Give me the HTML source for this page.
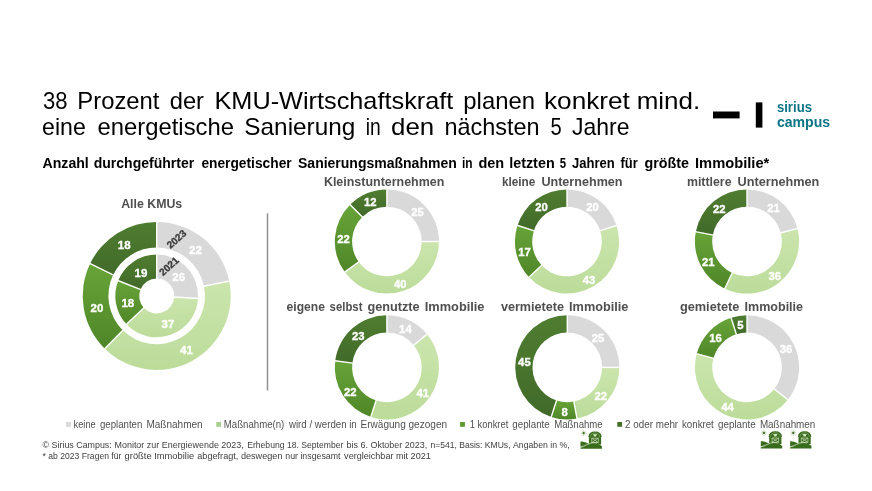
<!DOCTYPE html>
<html><head><meta charset="utf-8"><title>KMU Sanierung</title>
<style>
html,body{margin:0;padding:0;background:#fff;}
svg{display:block;will-change:transform;font-family:"Liberation Sans",sans-serif;}
.ttl{font-size:24px;fill:#000;}
.sub{font-size:14px;font-weight:bold;fill:#000;}
.ct{font-size:12.5px;font-weight:bold;fill:#4F4F4F;}
.lg{font-size:10px;fill:#505050;}
.ft{font-size:9.3px;fill:#404040;}
.dl{font-weight:bold;fill:#fff;stroke:#fff;stroke-width:0.35px;}
.logo{font-size:14.6px;font-weight:bold;fill:#0B7585;}
.yr{font-size:10px;font-weight:bold;fill:#3A3A3A;stroke:#3A3A3A;stroke-width:0.3px;}
</style></head><body>
<svg width="872" height="491" viewBox="0 0 872 491">
<rect width="872" height="491" fill="#fff"/>

<defs>
<linearGradient id="gL" x1="0" y1="0" x2="0" y2="1"><stop offset="0" stop-color="#CBE5AD"/><stop offset="1" stop-color="#BCDC9A"/></linearGradient>
<linearGradient id="gM" x1="0" y1="0" x2="0" y2="1"><stop offset="0" stop-color="#67A438"/><stop offset="1" stop-color="#4F8628"/></linearGradient>
<linearGradient id="gD" x1="0" y1="0" x2="0" y2="1"><stop offset="0" stop-color="#4F7D30"/><stop offset="1" stop-color="#416A29"/></linearGradient>
</defs>
<text x="776.9" y="112.1" class="logo" textLength="35.1" lengthAdjust="spacingAndGlyphs">sirius</text>
<text x="776.9" y="127.2" class="logo" textLength="53.2" lengthAdjust="spacingAndGlyphs">campus</text>
<text x="43.00" y="108.5" class="ttl" textLength="24.52" lengthAdjust="spacingAndGlyphs">38</text>
<text x="77.31" y="108.5" class="ttl" textLength="82.16" lengthAdjust="spacingAndGlyphs">Prozent</text>
<text x="169.71" y="108.5" class="ttl" textLength="34.28" lengthAdjust="spacingAndGlyphs">der</text>
<text x="214.45" y="108.5" class="ttl" textLength="238.90" lengthAdjust="spacingAndGlyphs">KMU-Wirtschaftskraft</text>
<text x="463.30" y="108.5" class="ttl" textLength="71.74" lengthAdjust="spacingAndGlyphs">planen</text>
<text x="544.01" y="108.5" class="ttl" textLength="85.83" lengthAdjust="spacingAndGlyphs">konkret</text>
<text x="636.72" y="108.5" class="ttl" textLength="63.49" lengthAdjust="spacingAndGlyphs">mind.</text>
<text x="42.04" y="134.8" class="ttl" textLength="43.70" lengthAdjust="spacingAndGlyphs">eine</text>
<text x="97.51" y="134.8" class="ttl" textLength="136.54" lengthAdjust="spacingAndGlyphs">energetische</text>
<text x="244.39" y="134.8" class="ttl" textLength="110.88" lengthAdjust="spacingAndGlyphs">Sanierung</text>
<text x="365.70" y="134.8" class="ttl" textLength="14.98" lengthAdjust="spacingAndGlyphs">in</text>
<text x="391.12" y="134.8" class="ttl" textLength="43.13" lengthAdjust="spacingAndGlyphs">den</text>
<text x="444.42" y="134.8" class="ttl" textLength="95.09" lengthAdjust="spacingAndGlyphs">nächsten</text>
<text x="550.60" y="134.8" class="ttl" textLength="11.19" lengthAdjust="spacingAndGlyphs">5</text>
<text x="572.00" y="134.8" class="ttl" textLength="57.53" lengthAdjust="spacingAndGlyphs">Jahre</text>
<text x="42.50" y="168.4" class="sub" textLength="46.30" lengthAdjust="spacingAndGlyphs">Anzahl</text>
<text x="93.70" y="168.4" class="sub" textLength="100.55" lengthAdjust="spacingAndGlyphs">durchgeführter</text>
<text x="201.40" y="168.4" class="sub" textLength="90.26" lengthAdjust="spacingAndGlyphs">energetischer</text>
<text x="298.00" y="168.4" class="sub" textLength="158.75" lengthAdjust="spacingAndGlyphs">Sanierungsmaßnahmen</text>
<text x="462.00" y="168.4" class="sub" textLength="10.57" lengthAdjust="spacingAndGlyphs">in</text>
<text x="478.40" y="168.4" class="sub" textLength="25.77" lengthAdjust="spacingAndGlyphs">den</text>
<text x="509.20" y="168.4" class="sub" textLength="45.47" lengthAdjust="spacingAndGlyphs">letzten</text>
<text x="559.70" y="168.4" class="sub" textLength="6.33" lengthAdjust="spacingAndGlyphs">5</text>
<text x="572.00" y="168.4" class="sub" textLength="42.71" lengthAdjust="spacingAndGlyphs">Jahren</text>
<text x="620.50" y="168.4" class="sub" textLength="17.19" lengthAdjust="spacingAndGlyphs">für</text>
<text x="644.50" y="168.4" class="sub" textLength="44.48" lengthAdjust="spacingAndGlyphs">größte</text>
<text x="695.00" y="168.4" class="sub" textLength="74.32" lengthAdjust="spacingAndGlyphs">Immobilie*</text>
<text x="73.60" y="428.3" class="lg" textLength="22.09" lengthAdjust="spacingAndGlyphs">keine</text>
<text x="99.90" y="428.3" class="lg" textLength="42.44" lengthAdjust="spacingAndGlyphs">geplanten</text>
<text x="146.50" y="428.3" class="lg" textLength="56.06" lengthAdjust="spacingAndGlyphs">Maßnahmen</text>
<text x="223.80" y="428.3" class="lg" textLength="60.52" lengthAdjust="spacingAndGlyphs">Maßnahme(n)</text>
<text x="288.97" y="428.3" class="lg" textLength="67.78" lengthAdjust="spacingAndGlyphs">wird / werden in</text>
<text x="360.50" y="428.3" class="lg" textLength="86.56" lengthAdjust="spacingAndGlyphs">Erwägung gezogen</text>
<text x="469.70" y="428.3" class="lg" textLength="38.59" lengthAdjust="spacingAndGlyphs">1 konkret</text>
<text x="512.30" y="428.3" class="lg" textLength="37.47" lengthAdjust="spacingAndGlyphs">geplante</text>
<text x="554.20" y="428.3" class="lg" textLength="48.48" lengthAdjust="spacingAndGlyphs">Maßnahme</text>
<text x="625.10" y="428.3" class="lg" textLength="53.04" lengthAdjust="spacingAndGlyphs">2 oder mehr</text>
<text x="682.00" y="428.3" class="lg" textLength="31.79" lengthAdjust="spacingAndGlyphs">konkret</text>
<text x="718.00" y="428.3" class="lg" textLength="37.77" lengthAdjust="spacingAndGlyphs">geplante</text>
<text x="759.90" y="428.3" class="lg" textLength="55.45" lengthAdjust="spacingAndGlyphs">Maßnahmen</text>
<text x="42.60" y="448.3" class="ft" textLength="69.16" lengthAdjust="spacingAndGlyphs">© Sirius Campus:</text>
<text x="114.50" y="448.3" class="ft" textLength="129.26" lengthAdjust="spacingAndGlyphs">Monitor zur Energiewende 2023,</text>
<text x="247.20" y="448.3" class="ft" textLength="96.19" lengthAdjust="spacingAndGlyphs">Erhebung 18. September</text>
<text x="346.60" y="448.3" class="ft" textLength="80.56" lengthAdjust="spacingAndGlyphs">bis 6. Oktober 2023,</text>
<text x="430.40" y="448.3" class="ft" textLength="80.14" lengthAdjust="spacingAndGlyphs">n=541, Basis: KMUs,</text>
<text x="513.00" y="448.3" class="ft" textLength="56.55" lengthAdjust="spacingAndGlyphs">Angaben in %,</text>
<text x="42.60" y="459.3" class="ft" textLength="78.79" lengthAdjust="spacingAndGlyphs">* ab 2023 Fragen für</text>
<text x="124.60" y="459.3" class="ft" textLength="69.57" lengthAdjust="spacingAndGlyphs">größte Immobilie</text>
<text x="197.30" y="459.3" class="ft" textLength="85.17" lengthAdjust="spacingAndGlyphs">abgefragt, deswegen</text>
<text x="285.30" y="459.3" class="ft" textLength="55.11" lengthAdjust="spacingAndGlyphs">nur insgesamt</text>
<text x="344.10" y="459.3" class="ft" textLength="86.67" lengthAdjust="spacingAndGlyphs">vergleichbar mit 2021</text>
<text x="121.20" y="207.8" class="ct" textLength="61.05" lengthAdjust="spacingAndGlyphs">Alle KMUs</text>
<text x="323.90" y="186.3" class="ct" textLength="120.43" lengthAdjust="spacingAndGlyphs">Kleinstunternehmen</text>
<text x="502.00" y="186.3" class="ct" textLength="33.35" lengthAdjust="spacingAndGlyphs">kleine</text>
<text x="541.40" y="186.3" class="ct" textLength="81.14" lengthAdjust="spacingAndGlyphs">Unternehmen</text>
<text x="686.90" y="186.3" class="ct" textLength="44.65" lengthAdjust="spacingAndGlyphs">mittlere</text>
<text x="737.60" y="186.3" class="ct" textLength="81.74" lengthAdjust="spacingAndGlyphs">Unternehmen</text>
<text x="286.60" y="310.6" class="ct" textLength="38.35" lengthAdjust="spacingAndGlyphs">eigene</text>
<text x="329.60" y="310.6" class="ct" textLength="32.84" lengthAdjust="spacingAndGlyphs">selbst</text>
<text x="367.50" y="310.6" class="ct" textLength="52.15" lengthAdjust="spacingAndGlyphs">genutzte</text>
<text x="424.80" y="310.6" class="ct" textLength="59.65" lengthAdjust="spacingAndGlyphs">Immobilie</text>
<text x="500.90" y="310.6" class="ct" textLength="63.15" lengthAdjust="spacingAndGlyphs">vermietete</text>
<text x="569.10" y="310.6" class="ct" textLength="59.25" lengthAdjust="spacingAndGlyphs">Immobilie</text>
<text x="679.90" y="310.6" class="ct" textLength="59.55" lengthAdjust="spacingAndGlyphs">gemietete</text>
<text x="744.60" y="310.6" class="ct" textLength="58.45" lengthAdjust="spacingAndGlyphs">Immobilie</text>
<rect x="713" y="111.5" width="26.6" height="6.9" fill="#000"/>
<rect x="755.8" y="102.4" width="6.6" height="25.2" fill="#000"/>
<line x1="267.5" y1="213.3" x2="267.5" y2="390.5" stroke="#909090" stroke-width="1.5"/>
<path d="M156.70 221.90A74 74 0 0 1 229.19 281.04L204.02 286.20A48.3 48.3 0 0 0 156.70 247.60Z" fill="#D9D9D9"/>
<path d="M229.19 281.04A74 74 0 0 1 104.78 348.63L122.81 330.32A48.3 48.3 0 0 0 204.02 286.20Z" fill="url(#gL)"/>
<path d="M104.78 348.63A74 74 0 0 1 90.10 263.64L113.23 274.85A48.3 48.3 0 0 0 122.81 330.32Z" fill="url(#gM)"/>
<path d="M90.10 263.64A74 74 0 0 1 156.70 221.90L156.70 247.60A48.3 48.3 0 0 0 113.23 274.85Z" fill="url(#gD)"/>
<line x1="156.70" y1="221.40" x2="156.70" y2="248.10" stroke="#fff" stroke-width="1.4"/>
<line x1="229.68" y1="280.94" x2="203.53" y2="286.30" stroke="#fff" stroke-width="1.4"/>
<line x1="104.43" y1="348.99" x2="123.16" y2="329.96" stroke="#fff" stroke-width="1.4"/>
<line x1="89.65" y1="263.43" x2="113.68" y2="275.06" stroke="#fff" stroke-width="1.4"/>
<text x="195.4" y="253.6" text-anchor="middle" class="dl" font-size="11.5">22</text>
<text x="186.5" y="354.1" text-anchor="middle" class="dl" font-size="11.5">41</text>
<text x="96.9" y="311.7" text-anchor="middle" class="dl" font-size="11.5">20</text>
<text x="124.2" y="249.1" text-anchor="middle" class="dl" font-size="11.5">18</text>
<path d="M156.70 254.50A41.4 41.4 0 0 1 198.02 298.50L174.17 297.00A17.5 17.5 0 0 0 156.70 278.40Z" fill="#D9D9D9"/>
<path d="M198.02 298.50A41.4 41.4 0 0 1 126.52 324.24L143.94 307.88A17.5 17.5 0 0 0 174.17 297.00Z" fill="url(#gL)"/>
<path d="M126.52 324.24A41.4 41.4 0 0 1 118.21 280.66L140.43 289.46A17.5 17.5 0 0 0 143.94 307.88Z" fill="url(#gM)"/>
<path d="M118.21 280.66A41.4 41.4 0 0 1 156.70 254.50L156.70 278.40A17.5 17.5 0 0 0 140.43 289.46Z" fill="url(#gD)"/>
<line x1="156.70" y1="254.00" x2="156.70" y2="278.90" stroke="#fff" stroke-width="1.4"/>
<line x1="198.52" y1="298.53" x2="173.67" y2="296.97" stroke="#fff" stroke-width="1.4"/>
<line x1="126.16" y1="324.58" x2="144.31" y2="307.54" stroke="#fff" stroke-width="1.4"/>
<line x1="117.74" y1="280.48" x2="140.89" y2="289.64" stroke="#fff" stroke-width="1.4"/>
<text x="178.7" y="280.8" text-anchor="middle" class="dl" font-size="11.5">26</text>
<text x="167.9" y="328.3" text-anchor="middle" class="dl" font-size="11.5">37</text>
<text x="127.8" y="306.5" text-anchor="middle" class="dl" font-size="11.5">18</text>
<text x="140.9" y="276.6" text-anchor="middle" class="dl" font-size="11.5">19</text>
<path d="M386.90 189.40A52.1 52.1 0 0 1 439.00 241.50L421.70 241.50A34.8 34.8 0 0 0 386.90 206.70Z" fill="#D9D9D9"/>
<path d="M439.00 241.50A52.1 52.1 0 0 1 344.75 272.12L358.75 261.95A34.8 34.8 0 0 0 421.70 241.50Z" fill="url(#gL)"/>
<path d="M344.75 272.12A52.1 52.1 0 0 1 350.06 204.66L362.29 216.89A34.8 34.8 0 0 0 358.75 261.95Z" fill="url(#gM)"/>
<path d="M350.06 204.66A52.1 52.1 0 0 1 386.90 189.40L386.90 206.70A34.8 34.8 0 0 0 362.29 216.89Z" fill="url(#gD)"/>
<line x1="386.90" y1="188.90" x2="386.90" y2="207.20" stroke="#fff" stroke-width="1.4"/>
<line x1="439.50" y1="241.50" x2="421.20" y2="241.50" stroke="#fff" stroke-width="1.4"/>
<line x1="344.35" y1="272.42" x2="359.15" y2="261.66" stroke="#fff" stroke-width="1.4"/>
<line x1="349.71" y1="204.31" x2="362.65" y2="217.25" stroke="#fff" stroke-width="1.4"/>
<text x="417.6" y="215.7" text-anchor="middle" class="dl" font-size="11.3">25</text>
<text x="400.3" y="287.8" text-anchor="middle" class="dl" font-size="11.3">40</text>
<text x="343.6" y="243.1" text-anchor="middle" class="dl" font-size="11.3">22</text>
<text x="370.3" y="206.3" text-anchor="middle" class="dl" font-size="11.3">12</text>
<path d="M567.00 189.40A52.1 52.1 0 0 1 616.55 225.40L600.10 230.75A34.8 34.8 0 0 0 567.00 206.70Z" fill="#D9D9D9"/>
<path d="M616.55 225.40A52.1 52.1 0 0 1 529.02 277.16L541.63 265.32A34.8 34.8 0 0 0 600.10 230.75Z" fill="url(#gL)"/>
<path d="M529.02 277.16A52.1 52.1 0 0 1 517.45 225.40L533.90 230.75A34.8 34.8 0 0 0 541.63 265.32Z" fill="url(#gM)"/>
<path d="M517.45 225.40A52.1 52.1 0 0 1 567.00 189.40L567.00 206.70A34.8 34.8 0 0 0 533.90 230.75Z" fill="url(#gD)"/>
<line x1="567.00" y1="188.90" x2="567.00" y2="207.20" stroke="#fff" stroke-width="1.4"/>
<line x1="617.03" y1="225.25" x2="599.62" y2="230.90" stroke="#fff" stroke-width="1.4"/>
<line x1="528.66" y1="277.51" x2="542.00" y2="264.98" stroke="#fff" stroke-width="1.4"/>
<line x1="516.97" y1="225.25" x2="534.38" y2="230.90" stroke="#fff" stroke-width="1.4"/>
<text x="592.5" y="211.3" text-anchor="middle" class="dl" font-size="11.3">20</text>
<text x="589.1" y="283.9" text-anchor="middle" class="dl" font-size="11.3">43</text>
<text x="524.6" y="255.9" text-anchor="middle" class="dl" font-size="11.3">17</text>
<text x="541.5" y="211.3" text-anchor="middle" class="dl" font-size="11.3">20</text>
<path d="M747.00 189.40A52.1 52.1 0 0 1 797.46 228.54L780.71 232.85A34.8 34.8 0 0 0 747.00 206.70Z" fill="#D9D9D9"/>
<path d="M797.46 228.54A52.1 52.1 0 0 1 724.82 288.64L732.18 272.99A34.8 34.8 0 0 0 780.71 232.85Z" fill="url(#gL)"/>
<path d="M724.82 288.64A52.1 52.1 0 0 1 695.82 231.74L712.82 234.98A34.8 34.8 0 0 0 732.18 272.99Z" fill="url(#gM)"/>
<path d="M695.82 231.74A52.1 52.1 0 0 1 747.00 189.40L747.00 206.70A34.8 34.8 0 0 0 712.82 234.98Z" fill="url(#gD)"/>
<line x1="747.00" y1="188.90" x2="747.00" y2="207.20" stroke="#fff" stroke-width="1.4"/>
<line x1="797.95" y1="228.42" x2="780.22" y2="232.97" stroke="#fff" stroke-width="1.4"/>
<line x1="724.60" y1="289.09" x2="732.40" y2="272.54" stroke="#fff" stroke-width="1.4"/>
<line x1="695.33" y1="231.64" x2="713.31" y2="235.07" stroke="#fff" stroke-width="1.4"/>
<text x="773.6" y="212.1" text-anchor="middle" class="dl" font-size="11.3">21</text>
<text x="774.7" y="279.9" text-anchor="middle" class="dl" font-size="11.3">36</text>
<text x="708.3" y="266.2" text-anchor="middle" class="dl" font-size="11.3">21</text>
<text x="719.3" y="213.0" text-anchor="middle" class="dl" font-size="11.3">22</text>
<path d="M386.90 315.30A52.1 52.1 0 0 1 427.04 334.19L413.71 345.22A34.8 34.8 0 0 0 386.90 332.60Z" fill="#D9D9D9"/>
<path d="M427.04 334.19A52.1 52.1 0 0 1 370.80 416.95L376.15 400.50A34.8 34.8 0 0 0 413.71 345.22Z" fill="url(#gL)"/>
<path d="M370.80 416.95A52.1 52.1 0 0 1 335.21 360.87L352.37 363.04A34.8 34.8 0 0 0 376.15 400.50Z" fill="url(#gM)"/>
<path d="M335.21 360.87A52.1 52.1 0 0 1 386.90 315.30L386.90 332.60A34.8 34.8 0 0 0 352.37 363.04Z" fill="url(#gD)"/>
<line x1="386.90" y1="314.80" x2="386.90" y2="333.10" stroke="#fff" stroke-width="1.4"/>
<line x1="427.43" y1="333.87" x2="413.33" y2="345.54" stroke="#fff" stroke-width="1.4"/>
<line x1="370.65" y1="417.43" x2="376.30" y2="400.02" stroke="#fff" stroke-width="1.4"/>
<line x1="334.71" y1="360.81" x2="352.87" y2="363.10" stroke="#fff" stroke-width="1.4"/>
<text x="405.4" y="333.1" text-anchor="middle" class="dl" font-size="11.3">14</text>
<text x="422.8" y="396.8" text-anchor="middle" class="dl" font-size="11.3">41</text>
<text x="350.2" y="395.6" text-anchor="middle" class="dl" font-size="11.3">22</text>
<text x="358.2" y="339.8" text-anchor="middle" class="dl" font-size="11.3">23</text>
<path d="M567.30 315.30A52.1 52.1 0 0 1 619.40 367.40L602.10 367.40A34.8 34.8 0 0 0 567.30 332.60Z" fill="#D9D9D9"/>
<path d="M619.40 367.40A52.1 52.1 0 0 1 577.06 418.58L573.82 401.58A34.8 34.8 0 0 0 602.10 367.40Z" fill="url(#gL)"/>
<path d="M577.06 418.58A52.1 52.1 0 0 1 551.20 416.95L556.55 400.50A34.8 34.8 0 0 0 573.82 401.58Z" fill="url(#gM)"/>
<path d="M551.20 416.95A52.1 52.1 0 0 1 567.30 315.30L567.30 332.60A34.8 34.8 0 0 0 556.55 400.50Z" fill="url(#gD)"/>
<line x1="567.30" y1="314.80" x2="567.30" y2="333.10" stroke="#fff" stroke-width="1.4"/>
<line x1="619.90" y1="367.40" x2="601.60" y2="367.40" stroke="#fff" stroke-width="1.4"/>
<line x1="577.16" y1="419.07" x2="573.73" y2="401.09" stroke="#fff" stroke-width="1.4"/>
<line x1="551.05" y1="417.43" x2="556.70" y2="400.02" stroke="#fff" stroke-width="1.4"/>
<text x="598.0" y="341.6" text-anchor="middle" class="dl" font-size="11.3">25</text>
<text x="600.8" y="400.1" text-anchor="middle" class="dl" font-size="11.3">22</text>
<text x="564.6" y="415.7" text-anchor="middle" class="dl" font-size="11.3">8</text>
<text x="524.4" y="365.6" text-anchor="middle" class="dl" font-size="11.3">45</text>
<path d="M747.00 315.30A52.1 52.1 0 0 1 787.88 399.70L774.30 388.98A34.8 34.8 0 0 0 747.00 332.60Z" fill="#D9D9D9"/>
<path d="M787.88 399.70A52.1 52.1 0 0 1 696.71 353.79L713.41 358.31A34.8 34.8 0 0 0 774.30 388.98Z" fill="url(#gL)"/>
<path d="M696.71 353.79A52.1 52.1 0 0 1 731.05 317.80L736.35 334.27A34.8 34.8 0 0 0 713.41 358.31Z" fill="url(#gM)"/>
<path d="M731.05 317.80A52.1 52.1 0 0 1 747.00 315.30L747.00 332.60A34.8 34.8 0 0 0 736.35 334.27Z" fill="url(#gD)"/>
<line x1="747.00" y1="314.80" x2="747.00" y2="333.10" stroke="#fff" stroke-width="1.4"/>
<line x1="788.27" y1="400.01" x2="773.91" y2="388.67" stroke="#fff" stroke-width="1.4"/>
<line x1="696.23" y1="353.65" x2="713.89" y2="358.44" stroke="#fff" stroke-width="1.4"/>
<line x1="730.90" y1="317.32" x2="736.50" y2="334.75" stroke="#fff" stroke-width="1.4"/>
<text x="786.1" y="353.4" text-anchor="middle" class="dl" font-size="11.3">36</text>
<text x="727.5" y="411.2" text-anchor="middle" class="dl" font-size="11.3">44</text>
<text x="715.6" y="342.4" text-anchor="middle" class="dl" font-size="11.3">16</text>
<text x="740.3" y="329.4" text-anchor="middle" class="dl" font-size="11.3">5</text>
<text class="yr" transform="translate(170.6,249.1) rotate(-42)">2023</text>
<text class="yr" transform="translate(163,276.2) rotate(-42)">2021</text>
<rect x="66" y="422" width="4.8" height="4.8" fill="#D9D9D9"/>
<rect x="216.2" y="422" width="4.8" height="4.8" fill="#A9D18E"/>
<rect x="460.1" y="422" width="4.8" height="4.8" fill="#5E9830"/>
<rect x="617.3" y="422" width="4.8" height="4.8" fill="#44702A"/>
<g transform="translate(580,430.5)">
<g fill="#3A6C1E">
<circle cx="3.65" cy="2.6" r="1.05"/>
<g stroke="#3A6C1E" stroke-width="0.5" opacity="0.55"><path d="M3.65 -0.4v6M0.65 2.6h6M1.55 0.5l4.2 4.2M5.75 0.5l-4.2 4.2"/></g>
<path d="M8.3 6.4Q8.6 0.9 15 0.9Q21.4 0.9 21.7 6.4L21.1 6.6V14H8.9V6.6Z"/>
<path d="M0.5 11C3.2 10.8 6 12 9.2 13.5L9 16L0.5 16.4Z"/>
<path d="M0.5 17C5 16.6 9 12.7 13.6 12.7C17 12.7 20 14 21.9 15.7V18.3H0.5Z"/>
</g>
<g fill="none" stroke="#DDECCC" stroke-width="0.6">
<path d="M10.3 6.8Q10.5 2.5 15 2.5Q19.5 2.5 19.7 6.8" opacity="0.55"/>
<path d="M11.7 7.7H18.3V12H11.7ZM11.7 7.7L18.3 12M18.3 7.7L11.7 12"/>
<path d="M0.5 16.4C5 16 9 12.2 13.6 12.2C15 12.2 16 12.4 17 12.8" stroke-width="0.75"/>
</g>
<path d="M12.9 3.7H17.1L16 6.1H14Z" fill="#CFE5BA"/>
</g>
<g transform="translate(760.3,430.3)">
<g fill="#3A6C1E">
<circle cx="3.65" cy="2.6" r="1.05"/>
<g stroke="#3A6C1E" stroke-width="0.5" opacity="0.55"><path d="M3.65 -0.4v6M0.65 2.6h6M1.55 0.5l4.2 4.2M5.75 0.5l-4.2 4.2"/></g>
<path d="M8.3 6.4Q8.6 0.9 15 0.9Q21.4 0.9 21.7 6.4L21.1 6.6V14H8.9V6.6Z"/>
<path d="M0.5 11C3.2 10.8 6 12 9.2 13.5L9 16L0.5 16.4Z"/>
<path d="M0.5 17C5 16.6 9 12.7 13.6 12.7C17 12.7 20 14 21.9 15.7V18.3H0.5Z"/>
</g>
<g fill="none" stroke="#DDECCC" stroke-width="0.6">
<path d="M10.3 6.8Q10.5 2.5 15 2.5Q19.5 2.5 19.7 6.8" opacity="0.55"/>
<path d="M11.7 7.7H18.3V12H11.7ZM11.7 7.7L18.3 12M18.3 7.7L11.7 12"/>
<path d="M0.5 16.4C5 16 9 12.2 13.6 12.2C15 12.2 16 12.4 17 12.8" stroke-width="0.75"/>
</g>
<path d="M12.9 3.7H17.1L16 6.1H14Z" fill="#CFE5BA"/>
</g>
<g transform="translate(789.6,430.3)">
<g fill="#3A6C1E">
<circle cx="3.65" cy="2.6" r="1.05"/>
<g stroke="#3A6C1E" stroke-width="0.5" opacity="0.55"><path d="M3.65 -0.4v6M0.65 2.6h6M1.55 0.5l4.2 4.2M5.75 0.5l-4.2 4.2"/></g>
<path d="M8.3 6.4Q8.6 0.9 15 0.9Q21.4 0.9 21.7 6.4L21.1 6.6V14H8.9V6.6Z"/>
<path d="M0.5 11C3.2 10.8 6 12 9.2 13.5L9 16L0.5 16.4Z"/>
<path d="M0.5 17C5 16.6 9 12.7 13.6 12.7C17 12.7 20 14 21.9 15.7V18.3H0.5Z"/>
</g>
<g fill="none" stroke="#DDECCC" stroke-width="0.6">
<path d="M10.3 6.8Q10.5 2.5 15 2.5Q19.5 2.5 19.7 6.8" opacity="0.55"/>
<path d="M11.7 7.7H18.3V12H11.7ZM11.7 7.7L18.3 12M18.3 7.7L11.7 12"/>
<path d="M0.5 16.4C5 16 9 12.2 13.6 12.2C15 12.2 16 12.4 17 12.8" stroke-width="0.75"/>
</g>
<path d="M12.9 3.7H17.1L16 6.1H14Z" fill="#CFE5BA"/>
</g>
</svg>
</body></html>
